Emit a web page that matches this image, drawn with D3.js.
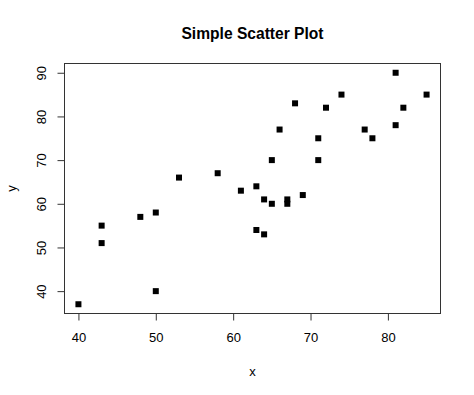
<!DOCTYPE html>
<html>
<head>
<meta charset="utf-8">
<script src="https://cdn.jsdelivr.net/npm/d3@7"></script>
<style>
  html, body { margin: 0; padding: 0; background: #fff; }
  svg { display: block; font-family: "Liberation Sans", Arial, sans-serif; }
</style>
</head>
<body>
<svg id="chart" width="474" height="395"></svg>
<script>
const xValues = [40, 43, 43, 48, 50, 50, 53, 58, 61, 63, 63, 64, 64, 65, 65, 66, 67, 67, 68, 69, 71, 71, 72, 74, 77, 78, 81, 81, 82, 85];
const yValues = [37, 55, 51, 57, 58, 40, 66, 67, 63, 64, 54, 61, 53, 70, 60, 77, 61, 60, 83, 62, 75, 70, 82, 85, 77, 75, 90, 78, 82, 85];
const xTicks = [40, 50, 60, 70, 80];
const yTicks = [40, 50, 60, 70, 80, 90];
const title = "Simple Scatter Plot";
const xLabel = "x";
const yLabel = "y";

const svg = d3.select("#chart");
const pLeft = 64.5, pRight = 440.5, pTop = 63.5, pBottom = 313.5;

const xMin = d3.min(xValues), xMax = d3.max(xValues);
const yMin = d3.min(yValues), yMax = d3.max(yValues);
const xPad = (xMax - xMin) * 0.04, yPad = (yMax - yMin) * 0.04;

const x = d3.scaleLinear().domain([xMin - xPad, xMax + xPad]).range([pLeft, pRight]);
const y = d3.scaleLinear().domain([yMin - yPad, yMax + yPad]).range([pBottom, pTop]);

// box
svg.append("rect")
  .attr("x", pLeft).attr("y", pTop)
  .attr("width", pRight - pLeft).attr("height", pBottom - pTop)
  .attr("fill", "none").attr("stroke", "#333").attr("stroke-width", 1);

// x axis
const xAxis = svg.append("g").attr("transform", `translate(0,${pBottom})`)
  .call(d3.axisBottom(x).tickValues(xTicks).tickSize(7).tickPadding(12));
xAxis.select(".domain").remove();
xAxis.selectAll("line").attr("stroke", "#333");
xAxis.selectAll("text").attr("font-size", 13).attr("fill", "#000")
  .attr("font-family", "Liberation Sans, Arial, sans-serif");

// y axis
const yAxis = svg.append("g").attr("transform", `translate(${pLeft},0)`)
  .call(d3.axisLeft(y).tickValues(yTicks).tickSize(7));
yAxis.select(".domain").remove();
yAxis.selectAll("line").attr("stroke", "#333");
yAxis.selectAll("text")
  .attr("font-size", 13).attr("fill", "#000")
  .attr("font-family", "Liberation Sans, Arial, sans-serif")
  .attr("x", null).attr("dy", "0.35em")
  .attr("text-anchor", "middle")
  .attr("transform", `translate(${41.5 - pLeft},0) rotate(-90)`);

// points
svg.append("g").selectAll("rect")
  .data(xValues.map((v, i) => [v, yValues[i]]))
  .join("rect")
  .attr("x", d => x(d[0]) - 3)
  .attr("y", d => y(d[1]) - 3)
  .attr("width", 6).attr("height", 6)
  .attr("fill", "#000");

// title
svg.append("text")
  .attr("x", (pLeft + pRight) / 2).attr("y", 38.5)
  .attr("text-anchor", "middle")
  .attr("font-size", 15.6).attr("font-weight", "bold")
  .text(title);

// axis labels
svg.append("text")
  .attr("x", (pLeft + pRight) / 2).attr("y", 376)
  .attr("text-anchor", "middle").attr("font-size", 13)
  .text(xLabel);

svg.append("text")
  .attr("transform", `translate(16,${(pTop + pBottom) / 2}) rotate(-90)`)
  .attr("text-anchor", "middle").attr("font-size", 13)
  .text(yLabel);
</script>
</body>
</html>
